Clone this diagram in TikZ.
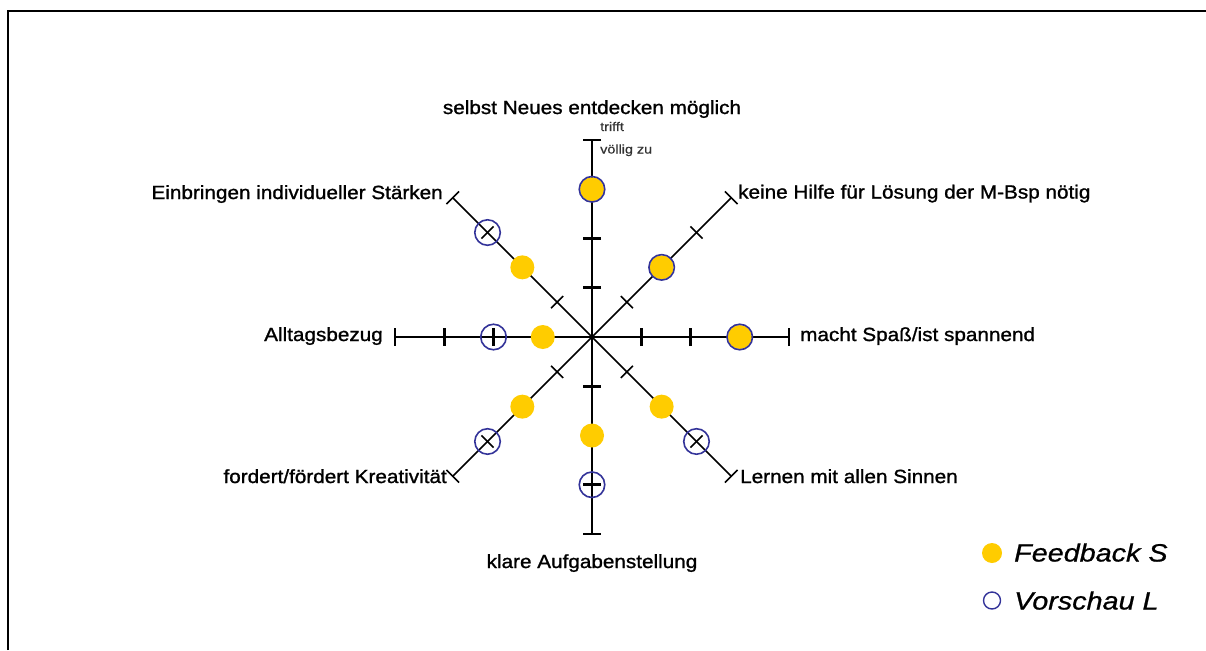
\documentclass[tikz,border=0pt]{standalone}
\usepackage{fontspec}
\setmainfont{Liberation Sans}
\newfontfamily\labfont{Liberation Sans}[FakeStretch=1.09,FakeBold=1.2]
\newfontfamily\smallfont{Liberation Sans}[FakeStretch=1.15,FakeBold=0.6]
\newfontfamily\legfont{Liberation Sans}[FakeStretch=1.15,FakeBold=0.8]
\definecolor{dotyellow}{RGB}{255,204,0}
\definecolor{ringblue}{RGB}{51,51,153}
\begin{document}
\begin{tikzpicture}[x=1pt,y=-1pt,
  lab/.style={inner sep=0pt,font=\labfont\fontsize{19}{22}\selectfont},
  smalllab/.style={inner sep=0pt,text=black!80,font=\smallfont\fontsize{12.5}{14}\selectfont},
  leglab/.style={inner sep=0pt,anchor=base west,font=\legfont\itshape\fontsize{25}{28}\selectfont},
  axisline/.style={line width=1.6pt,black},
  thicktick/.style={line width=2.8pt,black},
  thintick/.style={line width=1.6pt,black},
  ydot/.style={fill=dotyellow},
  bring/.style={draw=ringblue,line width=1.6pt}]
\useasboundingbox (0,0) rectangle (1206,650);
\fill[white] (0,0) rectangle (1206,650);
% frame
\draw[line width=2.2pt] (8,650) -- (8,11) -- (1206,11);

\begin{scope}[shift={(592,337)},y=1pt]
  \coordinate (O) at (0,0);
  \foreach \a/\n in {90/N,45/NE,0/E,-45/SE,-90/S,-135/SW,180/W,135/NW}{
    \coordinate (\n) at (\a:197);
    \draw[axisline] (O) -- (\n);
  }
  % cardinal ticks and caps
  \foreach \a in {0,90,180,270}{
    \foreach \d in {49.25,98.5,147.75,197}{
      \draw[thicktick,rotate=\a] (\d,-9) -- (\d,9);
    }
  }
  % diagonal ticks and caps
  \foreach \a in {45,135,225,315}{
    \foreach \d in {49.25,98.5,147.75}{
      \draw[thintick,rotate=\a] (\d,-8.5) -- (\d,8.5);
    }
    \draw[thintick,rotate=\a] (197,-9) -- (197,9);
  }
  % Feedback S (yellow)
  \foreach \a/\d in {90/147.75,45/98.5,0/147.75,-45/98.5,-90/98.5,-135/98.5,180/49.25,135/98.5}{
    \fill[ydot] (\a:\d) circle (12);
  }
  % Vorschau L (blue rings)
  \foreach \a/\d in {90/147.75,45/98.5,0/147.75,-45/147.75,-90/147.75,-135/147.75,180/98.5,135/147.75}{
    \draw[bring] (\a:\d) circle (12.75);
  }
\end{scope}

% labels
\node[lab,anchor=base] (tN) at (592,114) {selbst Neues entdecken möglich};
\node[lab,anchor=base east] (tNW) at (443,199) {Einbringen individueller Stärken};
\node[lab,anchor=base west] (tNE) at (738,198.5) {keine Hilfe für Lösung der M-Bsp nötig};
\node[lab,anchor=base east] (tW) at (383,341) {Alltagsbezug};
\node[lab,anchor=base west] (tE) at (800,341) {macht Spaß/ist spannend};
\node[lab,anchor=base east] (tSW) at (447,483) {fordert/fördert Kreativität};
\node[lab,anchor=base west] (tSE) at (740,483) {Lernen mit allen Sinnen};
\node[lab,anchor=base] (tS) at (592,568) {klare Aufgabenstellung};
\node[smalllab,anchor=base west] (tr1) at (600,131) {trifft};
\node[smalllab,anchor=base west] (tr2) at (600,153.5) {völlig zu};

% legend
\fill[ydot] (992,553) circle (10);
\node[leglab] (lgF) at (1014,561.5) {Feedback S};
\draw[ringblue,line width=1.4pt] (992,600.5) circle (8.5);
\node[leglab] (lgV) at (1014,609.5) {Vorschau L};
\end{tikzpicture}
\end{document}
